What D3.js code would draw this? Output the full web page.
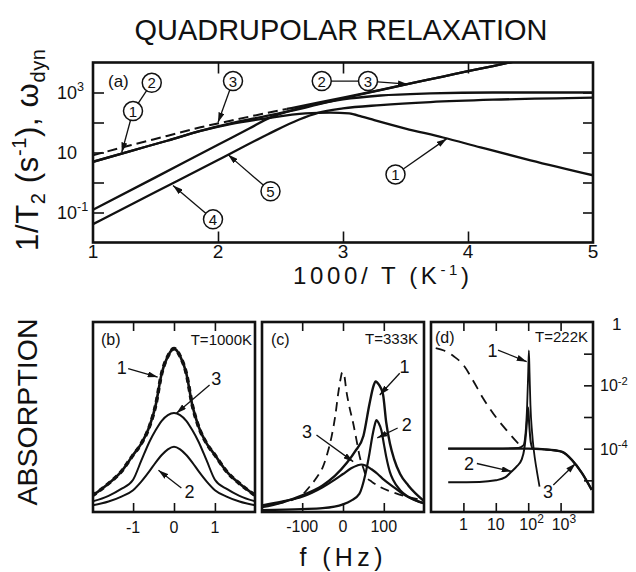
<!DOCTYPE html>
<html><head><meta charset="utf-8">
<script src="https://cdn.jsdelivr.net/npm/d3@7/dist/d3.min.js"></script>
<style>
html,body{margin:0;padding:0;background:#fff}
svg{display:block}
text{font-family:"Liberation Sans",Arial,Helvetica,sans-serif;fill:#111}
</style></head><body>
<svg id="chart" width="636" height="572"></svg>
<script>
// ================= DATA =================
// Panel (a): 1/T2 (s^-1) and omega_dyn versus 1000/T (K^-1)
const aXTicks=[1,2,3,4,5];
const aInnerXTicks=[2,3,4];
const aYTicks=[1e-1,1,1e1,1e2,1e3];
const aYLabelTicks=[1e-1,1e1,1e3];
const a1X=[1.0,1.3,1.6,1.86,2.1,2.4,2.7,2.9,3.05,3.15,3.25,3.5,3.8,4.1,4.5,5.0];
const a1Y=[4.9,11.2,25.1,52.5,89,141,200,214,200,158,120,63,31.6,14.8,5.5,1.74];
const a2X=[1.0,1.3,1.6,1.86,2.1,2.4,2.7,3.0,3.3,3.56,3.8,4.0,4.2,4.4];
const a2Y=[4.9,11.2,25.1,52.5,93,170,316,631,1200,2090,3390,5130,7590,11500];
const a3dashX=[1.0,1.3,1.6,1.86,2.1,2.35,2.55];
const a3dashY=[8.1,17.4,36.3,69,115,191,282];
const a3X=[2.55,2.8,3.0,3.3,3.56,3.8,4.0,4.2,4.4];
const a3Y=[282,457,676,1230,2090,3390,5130,7590,11500];
const a4X=[1.0,1.5,2.0,2.4,2.65,2.8,3.0,3.3,3.7,4.2,5.0];
const a4Y=[0.041,0.48,5.6,40.7,126,209,295,380,479,575,676];
const a5X=[1.0,1.5,2.0,2.25,2.42,2.6,2.8,3.0,3.3,3.7,4.2,5.0];
const a5Y=[0.123,1.48,18.2,63,148,263,417,589,794,933,1000,1000];

// Panel (b): T = 1000 K, f (Hz), absorption (arb.)
const bTicks=[-1,0,1];
const bF=[-2,-1.6,-1.3,-1.0,-0.8,-0.6,-0.45,-0.3,-0.15,0,0.15,0.3,0.45,0.6,0.8,1.0,1.3,1.6,2];
const b1=[0.085,0.15,0.21,0.30,0.36,0.45,0.56,0.73,0.82,0.86,0.82,0.73,0.56,0.45,0.36,0.30,0.21,0.15,0.085];
const b3=[0.055,0.085,0.12,0.17,0.27,0.37,0.43,0.48,0.51,0.521,0.51,0.48,0.43,0.37,0.27,0.17,0.12,0.085,0.055];
const b2=[0.035,0.055,0.08,0.115,0.16,0.215,0.26,0.30,0.33,0.344,0.33,0.30,0.26,0.215,0.16,0.115,0.08,0.055,0.035];

// Panel (c): T = 333 K
const cTicks=[-100,0,100];
const c1F=[-200,-150,-100,-50,-20,10,30,50,65,75,80,88,98,106,115,125,140,160,200];
const c1=[0.025,0.05,0.088,0.14,0.19,0.26,0.32,0.40,0.57,0.665,0.687,0.67,0.62,0.47,0.36,0.28,0.20,0.14,0.055];
const c2F=[-200,-100,-50,0,20,40,55,65,72,78,82,87,94,100,106,115,123,140,160,200];
const c2=[0.01,0.015,0.02,0.04,0.06,0.095,0.2,0.31,0.40,0.46,0.484,0.47,0.43,0.36,0.29,0.21,0.168,0.115,0.08,0.045];
const c3F=[-200,-150,-100,-50,-20,0,20,35,45,55,70,85,100,125,150,175,200];
const c3=[0.035,0.055,0.08,0.13,0.17,0.2,0.23,0.245,0.25,0.245,0.225,0.2,0.17,0.13,0.09,0.065,0.045];
const cDashF=[-200,-140,-100,-82,-65,-49,-38,-28,-18,-12,-6,-2,3,8,15,25,33,41,50,57,70,90,130,200];
const cDash=[0.035,0.054,0.09,0.133,0.18,0.239,0.31,0.397,0.52,0.62,0.70,0.735,0.72,0.64,0.56,0.467,0.38,0.291,0.23,0.186,0.16,0.133,0.098,0.06];

// Panel (d): T = 222 K (log-log)
const dXTicks=[1,10,100,1000];
const dYTicks=[1e-1,1e-2,1e-3,1e-4,1e-5];
const dDashF=[0.14,0.25,0.5,1,2,4,10,25,63];
const dDash=[0.15,0.126,0.083,0.044,0.014,0.004,0.001,3.2e-4,1.1e-4];
const dC3F=[0.34,10,100,316,631,1120,2240,4570,9120];
const dC3=[1e-4,1e-4,1e-4,9.5e-5,8.9e-5,7.9e-5,4.4e-5,1.7e-5,5e-6];
const dC2F=[0.34,3.16,10,20,30,45,62,76,87,95.5,100,107,120,141,200,316,631,1120,2240,4570,9120];
const dC2=[8.7e-6,8.9e-6,1e-5,1.26e-5,1.86e-5,2.8e-5,4.4e-5,1e-4,3.7e-4,1.26e-3,2e-3,6.3e-4,1.6e-4,1e-4,1e-4,9.5e-5,8.9e-5,7.9e-5,4.4e-5,1.7e-5,5e-6];
const dC1F=[0.34,10,50,71,83,93,100,105,110,117,132,151,178,224];
const dC1=[1e-4,1e-4,1.05e-4,1.26e-4,3.2e-4,2.5e-3,0.025,0.126,0.025,2.5e-3,3.2e-4,7.9e-5,2.5e-5,6.3e-6];

// ================= DRAWING =================
const ink="#111";
const svg=d3.select("#chart");
const defs=svg.append("defs");
defs.append("marker").attr("id","arr").attr("viewBox","0 0 10 6").attr("refX",10).attr("refY",3)
  .attr("markerWidth",10).attr("markerHeight",6).attr("markerUnits","userSpaceOnUse").attr("orient","auto")
  .append("path").attr("d","M0,0L10,3L0,6Z").attr("fill",ink);
function addClip(id,x0,y0,x1,y1){
  defs.append("clipPath").attr("id",id).append("rect").attr("x",x0).attr("y",y0).attr("width",x1-x0).attr("height",y1-y0);
}
function drawLine(g,xs,ys,sx,sy,o){
  o=o||{};
  const pts=xs.map((x,i)=>[x,ys[i]]);
  g.append("path").datum(pts)
    .attr("d",d3.line().x(d=>sx(d[0])).y(d=>sy(d[1])).curve(o.curve||d3.curveMonotoneX))
    .attr("fill","none").attr("stroke",ink).attr("stroke-width",o.w||2)
    .attr("stroke-dasharray",o.dash||null).attr("stroke-linejoin","round")
    .attr("clip-path",o.clip?`url(#${o.clip})`:null);
}
function ticks(g,axisFn,scale,vals,size,tr){
  const a=g.append("g").attr("transform",tr).call(axisFn(scale).tickValues(vals).tickSize(size).tickFormat(""));
  a.select(".domain").remove();
  a.selectAll("line").attr("stroke",ink).attr("stroke-width",1.6);
}
function frame(g,x0,y0,x1,y1){
  g.append("rect").attr("x",x0).attr("y",y0).attr("width",x1-x0).attr("height",y1-y0)
   .attr("fill","none").attr("stroke",ink).attr("stroke-width",2.6);
}
function arrow(g,x1,y1,x2,y2,head){
  g.append("line").attr("x1",x1).attr("y1",y1).attr("x2",x2).attr("y2",y2)
   .attr("stroke",ink).attr("stroke-width",1.3).attr("marker-end",head===false?null:"url(#arr)");
}
function pow10(g,x,y,exp,fs,anchorMid){
  const t=g.append("text").attr("x",x).attr("y",y).attr("font-size",fs);
  if(anchorMid) t.attr("text-anchor","middle");
  t.append("tspan").text("10");
  if(exp!=="") t.append("tspan").attr("dy",-fs*0.42).attr("font-size",fs*0.7).text(exp);
  return t;
}

// ---- Title ----
svg.append("text").attr("x",341).attr("y",40).attr("text-anchor","middle").attr("font-size",30)
  .attr("textLength",413).attr("lengthAdjust","spacingAndGlyphs").text("QUADRUPOLAR  RELAXATION");

// ---- Panel (a) ----
const gA=svg.append("g");
const ax=d3.scaleLinear().domain([1,5]).range([93,593]);
const ay=d3.scaleLog().domain([1e-2,1e4]).range([242.5,62.5]);
addClip("clipA",93,62.5,593,242.5);
ticks(gA,d3.axisLeft,ay,aYTicks,-11,"translate(93,0)");
ticks(gA,d3.axisRight,ay,aYTicks,-10,"translate(593,0)");
ticks(gA,d3.axisTop,ax,aInnerXTicks,-11,"translate(0,62.5)");
ticks(gA,d3.axisBottom,ax,aInnerXTicks,-11,"translate(0,242.5)");
drawLine(gA,a1X,a1Y,ax,ay,{w:2.3,clip:"clipA"});
drawLine(gA,a2X,a2Y,ax,ay,{w:2.3,clip:"clipA"});
drawLine(gA,a3X,a3Y,ax,ay,{w:2.3,clip:"clipA"});
drawLine(gA,a4X,a4Y,ax,ay,{w:2.3,clip:"clipA"});
drawLine(gA,a5X,a5Y,ax,ay,{w:2.3,clip:"clipA"});
drawLine(gA,a3dashX,a3dashY,ax,ay,{w:2,dash:"10,5",clip:"clipA"});
frame(gA,93,62.5,593,242.5);
// tick labels
aXTicks.forEach(v=>gA.append("text").attr("x",ax(v)).attr("y",258).attr("text-anchor","middle").attr("font-size",19).text(v));
aYLabelTicks.forEach(v=>{const e=Math.round(Math.log10(v)); pow10(gA,57,ay(v)+6,e===1?"":String(e),18,false);});
// axis titles
const xt=gA.append("text").attr("x",381).attr("y",284).attr("text-anchor","middle").attr("font-size",24)
  .attr("textLength",176).attr("lengthAdjust","spacing");
xt.append("tspan").text("1000/ T (K");
xt.append("tspan").attr("dy",-9).attr("font-size",15).text("-1");
xt.append("tspan").attr("dy",9).text(")");
const yt=gA.append("text").attr("transform","translate(38,150) rotate(-90)").attr("text-anchor","middle").attr("font-size",31)
  .attr("textLength",202).attr("lengthAdjust","spacing");
yt.append("tspan").text("1/T");
yt.append("tspan").attr("dy",7).attr("font-size",20).text("2");
yt.append("tspan").attr("dy",-7).text(" (s");
yt.append("tspan").attr("dy",-12).attr("font-size",20).text("-1");
yt.append("tspan").attr("dy",12).text("), ω");
yt.append("tspan").attr("dy",7).attr("font-size",20).text("dyn");
gA.append("text").attr("x",108).attr("y",87).attr("font-size",17).text("(a)");
// circled curve labels and arrows (data coordinates)
const R=9.5;
const aCircles=[
  {n:"2",x:1.47,y:2100},{n:"1",x:1.32,y:240,to:[1.23,10]},
  {n:"3",x:2.12,y:2400,to:[2.0,100]},
  {n:"2",x:2.83,y:2400},{n:"3",x:3.2,y:2400,to:[3.52,1900]},
  {n:"1",x:3.42,y:1.86,to:[3.83,29]},
  {n:"5",x:2.42,y:0.51,to:[2.08,8.5]},
  {n:"4",x:1.96,y:0.059,to:[1.64,0.8]}
];
arrow(gA,ax(1.47),ay(2100),ax(1.32),ay(240),false);
arrow(gA,ax(2.83),ay(2400),ax(3.2),ay(2400),false);
aCircles.forEach(c=>{
  if(!c.to) return;
  const x0=ax(c.x),y0=ay(c.y),x1=ax(c.to[0]),y1=ay(c.to[1]);
  const L=Math.hypot(x1-x0,y1-y0);
  arrow(gA,x0+(x1-x0)/L*R,y0+(y1-y0)/L*R,x1,y1,true);
});
aCircles.forEach(c=>{
  gA.append("circle").attr("cx",ax(c.x)).attr("cy",ay(c.y)).attr("r",R).attr("fill","#fff").attr("stroke",ink).attr("stroke-width",1.5);
  gA.append("text").attr("x",ax(c.x)).attr("y",ay(c.y)+5.5).attr("text-anchor","middle").attr("font-size",15).text(c.n);
});

// ---- Bottom panels common ----
const by=d3.scaleLinear().domain([0,1]).range([512,322]);
function labelArrows(g,sx,sy,items,fs){
  items.forEach(it=>{
    arrow(g,sx(it.x1),sy(it.y1),sx(it.x2),sy(it.y2),true);
    g.append("text").attr("x",sx(it.tx)).attr("y",sy(it.ty)).attr("dy","0.36em").attr("text-anchor","middle").attr("font-size",fs).text(it.t);
  });
}

// ---- Panel (b) ----
const gB=svg.append("g");
const bx=d3.scaleLinear().domain([-1.98,1.98]).range([93,255]);
addClip("clipB",93,322,255,512);
ticks(gB,d3.axisBottom,bx,bTicks,-9,"translate(0,512)");
ticks(gB,d3.axisTop,bx,bTicks,-9,"translate(0,322)");
drawLine(gB,bF,b2,bx,by,{w:2,clip:"clipB"});
drawLine(gB,bF,b3,bx,by,{w:2,clip:"clipB"});
drawLine(gB,bF,b1,bx,by,{w:2.6,clip:"clipB"});
drawLine(gB,bF,b1,bx,by,{w:3.6,dash:"5,4",clip:"clipB"});
frame(gB,93,322,255,512);
bTicks.forEach(v=>gB.append("text").attr("x",bx(v)).attr("y",533).attr("text-anchor","middle").attr("font-size",16).text(v));
gB.append("text").attr("x",101).attr("y",345).attr("font-size",16).text("(b)");
gB.append("text").attr("x",252).attr("y",345).attr("text-anchor","end").attr("font-size",15).text("T=1000K");
labelArrows(gB,bx,by,[
  {t:"1",tx:-1.28,ty:0.763,x1:-1.12,y1:0.755,x2:-0.4,y2:0.71},
  {t:"3",tx:1.03,ty:0.705,x1:0.87,y1:0.668,x2:0.06,y2:0.52},
  {t:"2",tx:0.38,ty:0.107,x1:0.18,y1:0.126,x2:-0.38,y2:0.22}
],18);

// ---- Panel (c) ----
const gC=svg.append("g");
const cx=d3.scaleLinear().domain([-198.5,198.5]).range([262,424]);
addClip("clipC",262,322,424,512);
ticks(gC,d3.axisBottom,cx,cTicks,-9,"translate(0,512)");
ticks(gC,d3.axisTop,cx,cTicks,-9,"translate(0,322)");
drawLine(gC,cDashF,cDash,cx,by,{w:1.8,dash:"9,6",clip:"clipC"});
drawLine(gC,c3F,c3,cx,by,{w:2.2,clip:"clipC"});
drawLine(gC,c2F,c2,cx,by,{w:2.2,clip:"clipC"});
drawLine(gC,c1F,c1,cx,by,{w:2.4,clip:"clipC"});
frame(gC,262,322,424,512);
cTicks.forEach(v=>gC.append("text").attr("x",cx(v)).attr("y",532).attr("text-anchor","middle").attr("font-size",16).text(v));
gC.append("text").attr("x",271).attr("y",345).attr("font-size",16).text("(c)");
gC.append("text").attr("x",418).attr("y",344).attr("text-anchor","end").attr("font-size",15).text("T=333K");
labelArrows(gC,cx,by,[
  {t:"1",tx:151,ty:0.765,x1:139,y1:0.73,x2:90,y2:0.616},
  {t:"2",tx:156,ty:0.46,x1:134,y1:0.442,x2:84,y2:0.39},
  {t:"3",tx:-88,ty:0.425,x1:-65,y1:0.405,x2:25,y2:0.265}
],18);
svg.append("text").attr("x",341).attr("y",566).attr("text-anchor","middle").attr("font-size",25)
  .attr("textLength",83).attr("lengthAdjust","spacing").text("f (Hz)");

// ---- Panel (d) ----
const gD=svg.append("g");
const dx=d3.scaleLog().domain([0.1,1e4]).range([431,593]);
const dy=d3.scaleLog().domain([1e-6,1]).range([512,322]);
addClip("clipD",431,322,593,512);
ticks(gD,d3.axisBottom,dx,dXTicks,-9,"translate(0,512)");
ticks(gD,d3.axisTop,dx,dXTicks,-9,"translate(0,322)");
ticks(gD,d3.axisRight,dy,dYTicks,-9,"translate(593,0)");
drawLine(gD,dDashF,dDash,dx,dy,{w:1.8,dash:"10,7",clip:"clipD"});
drawLine(gD,dC3F,dC3,dx,dy,{w:2.4,clip:"clipD"});
drawLine(gD,dC2F,dC2,dx,dy,{w:2,clip:"clipD"});
drawLine(gD,dC1F,dC1,dx,dy,{w:1.8,clip:"clipD"});
frame(gD,431,322,593,512);
dXTicks.forEach(v=>{
  const e=Math.round(Math.log10(v));
  if(e===0) gD.append("text").attr("x",dx(v)).attr("y",530).attr("text-anchor","middle").attr("font-size",16).text("1");
  else if(e===1) gD.append("text").attr("x",dx(v)).attr("y",530).attr("text-anchor","middle").attr("font-size",16).text("10");
  else {
    gD.append("text").attr("x",dx(v)).attr("y",530).attr("text-anchor","middle").attr("font-size",16).text("10");
    gD.append("text").attr("x",dx(v)+9).attr("y",523).attr("font-size",12).text(e);
  }
});
gD.append("text").attr("x",612).attr("y",330).attr("font-size",17).text("1");
[1e-2,1e-4].forEach(v=>{pow10(gD,600,dy(v)+6,String(Math.round(Math.log10(v))),16,false);});
gD.append("text").attr("x",435).attr("y",343).attr("font-size",16).text("(d)");
gD.append("text").attr("x",588).attr("y",342).attr("text-anchor","end").attr("font-size",15).text("T=222K");
labelArrows(gD,dx,dy,[
  {t:"1",tx:7.9,ty:0.13,x1:11.7,y1:0.13,x2:90,y2:0.056},
  {t:"2",tx:1.5,ty:3.3e-5,x1:2.6,y1:3.4e-5,x2:31,y2:1.9e-5},
  {t:"3",tx:407,ty:4.4e-6,x1:596,y1:7.1e-6,x2:2900,y2:3.4e-5}
],18);

// ---- ABSORPTION label ----
svg.append("text").attr("transform","translate(37,412) rotate(-90)").attr("text-anchor","middle").attr("font-size",28)
  .attr("textLength",187).attr("lengthAdjust","spacingAndGlyphs").text("ABSORPTION");
</script></body></html>
